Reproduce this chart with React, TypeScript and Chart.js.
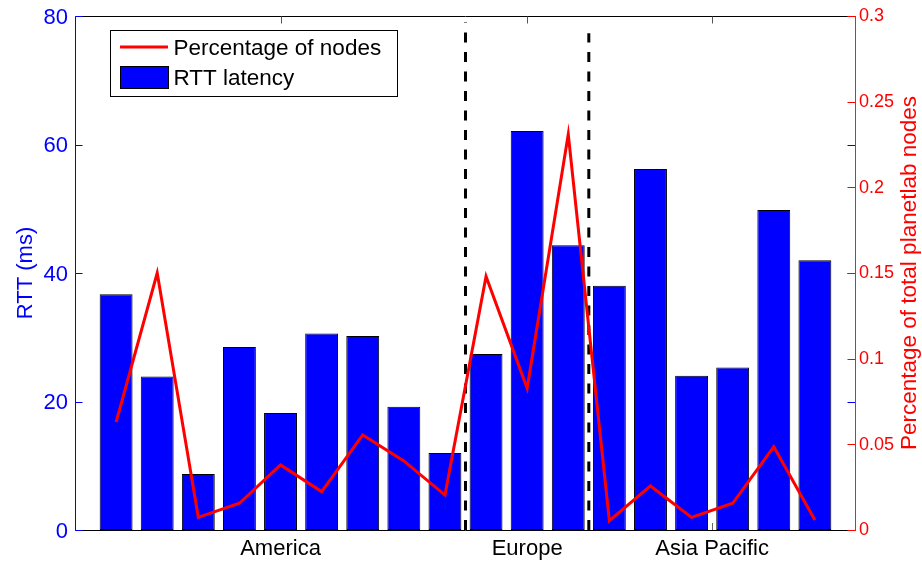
import React, { useEffect, useRef } from 'react';
import { Chart, registerables } from 'chart.js';

Chart.register(...registerables);

// ---- data ----
const regions = ['America', 'Europe', 'Asia Pacific'];
const regionTickPositions = [5, 11, 15.5];
const rttLatency = [36.7, 23.9, 8.7, 28.5, 18.2, 30.6, 30.2, 19.2, 12.0, 27.4, 62.1, 44.3, 38.0, 56.2, 24.0, 25.3, 49.8, 42.0];
const nodePercentage = [0.063, 0.150, 0.0074, 0.0156, 0.038, 0.0224, 0.0555, 0.0403, 0.0204, 0.148, 0.0827, 0.231, 0.0054, 0.0257, 0.0074, 0.0156, 0.0486, 0.0058];
const leftTickValues = [0, 20, 40, 60, 80];
const rightTickValues = [0, 0.05, 0.1, 0.15, 0.2, 0.25, 0.3];
const dividerPositions = [9.5, 12.5];
const dividerTopValues = [79, 77.3];
const legendLabels = ['Percentage of nodes', 'RTT latency'];
const leftTitle = 'RTT (ms)';
const rightTitle = 'Percentage of total planetlab nodes';

const FONT = '"Liberation Sans", Arial, Helvetica, sans-serif';
const BLUE = '#0000ff';
const RED = '#ff0000';

const decorPlugin = {
  id: 'decor',
  beforeDatasetsDraw(chart: any) {
    const { ctx, chartArea: a, scales } = chart;
    ctx.save();
    ctx.strokeStyle = '#666';
    ctx.lineWidth = 1;
    regionTickPositions.forEach((v) => {
      const x = Math.round(scales.x.getPixelForValue(v)) + 0.5;
      ctx.beginPath();
      ctx.moveTo(x, a.bottom);
      ctx.lineTo(x, a.bottom - 7);
      ctx.stroke();
    });
    ctx.restore();
  },
  afterDatasetDraw(chart: any, args: any) {
    if (args.meta.type !== 'bar') return;
    const { ctx, scales } = chart;
    ctx.save();
    ctx.strokeStyle = '#000';
    ctx.lineWidth = 3;
    ctx.setLineDash([10, 9.5]);
    dividerPositions.forEach((v, i) => {
      const x = scales.x.getPixelForValue(v);
      ctx.beginPath();
      ctx.moveTo(x, scales.y.getPixelForValue(0));
      ctx.lineTo(x, scales.y.getPixelForValue(dividerTopValues[i]));
      ctx.stroke();
    });
    ctx.restore();
  },
  afterDraw(chart: any) {
    const { ctx, chartArea: a, scales } = chart;
    const L = Math.round(a.left) + 0.5;
    const R = Math.round(a.right) - 0.5;
    const T = Math.round(a.top) + 0.5;
    const B = Math.round(a.bottom) + 0.5;
    ctx.save();
    ctx.lineWidth = 1;
    // top border
    ctx.strokeStyle = '#000';
    ctx.beginPath();
    ctx.moveTo(L, T);
    ctx.lineTo(R, T);
    ctx.stroke();
    // bottom axis
    ctx.beginPath();
    ctx.moveTo(L, B);
    ctx.lineTo(R, B);
    ctx.stroke();
    // top ticks
    ctx.strokeStyle = '#555';
    regionTickPositions.forEach((v) => {
      const x = Math.round(scales.x.getPixelForValue(v)) + 0.5;
      ctx.beginPath();
      ctx.moveTo(x, T);
      ctx.lineTo(x, T + 7);
      ctx.stroke();
    });
    // left axis
    ctx.strokeStyle = BLUE;
    ctx.beginPath();
    ctx.moveTo(L, T);
    ctx.lineTo(L, B);
    ctx.stroke();
    leftTickValues.forEach((v) => {
      const y = Math.round(scales.y.getPixelForValue(v)) + 0.5;
      ctx.beginPath();
      ctx.moveTo(L, y);
      ctx.lineTo(L + 7, y);
      ctx.stroke();
      ctx.beginPath();
      ctx.moveTo(R, y);
      ctx.lineTo(R - 8, y);
      ctx.stroke();
    });
    // right axis ticks
    ctx.strokeStyle = RED;
    rightTickValues.forEach((v) => {
      const y = Math.round(scales.y1.getPixelForValue(v)) + 0.5;
      ctx.beginPath();
      ctx.moveTo(R, y);
      ctx.lineTo(R - 8, y);
      ctx.stroke();
    });
    // right axis line
    ctx.strokeStyle = '#a02fa0';
    ctx.beginPath();
    ctx.moveTo(R, T);
    ctx.lineTo(R, B);
    ctx.stroke();

    // axis titles
    ctx.textAlign = 'center';
    ctx.textBaseline = 'alphabetic';
    const midY = (a.top + a.bottom) / 2;
    ctx.save();
    ctx.font = `22px ${FONT}`;
    ctx.translate(a.left - 43, midY);
    ctx.rotate(-Math.PI / 2);
    ctx.fillStyle = BLUE;
    ctx.fillText(leftTitle, 0, 0);
    ctx.restore();
    ctx.save();
    ctx.font = `22.5px ${FONT}`;
    ctx.translate(a.right + 60, midY);
    ctx.rotate(-Math.PI / 2);
    ctx.fillStyle = RED;
    ctx.fillText(rightTitle, 0, 0);
    ctx.restore();

    // legend
    const lx = Math.round(a.left) + 35.5;
    const ly = Math.round(a.top) + 14.5;
    ctx.fillStyle = '#fff';
    ctx.fillRect(lx, ly, 287, 66);
    ctx.strokeStyle = '#000';
    ctx.lineWidth = 1;
    ctx.strokeRect(lx, ly, 287, 66);
    ctx.strokeStyle = RED;
    ctx.lineWidth = 3;
    ctx.beginPath();
    ctx.moveTo(lx + 9.5, ly + 16.5);
    ctx.lineTo(lx + 57.5, ly + 16.5);
    ctx.stroke();
    ctx.fillStyle = BLUE;
    ctx.fillRect(lx + 10, ly + 36, 48, 22);
    ctx.strokeStyle = '#000';
    ctx.lineWidth = 1;
    ctx.strokeRect(lx + 10, ly + 36, 48, 22);
    ctx.fillStyle = '#000';
    ctx.textAlign = 'left';
    ctx.textBaseline = 'middle';
    ctx.font = `22.5px ${FONT}`;
    ctx.fillText(legendLabels[0], lx + 63, ly + 18.5);
    ctx.fillText(legendLabels[1], lx + 63, ly + 48.5);
    ctx.restore();
  },
};

export default function App() {
  const canvasRef = useRef<HTMLCanvasElement | null>(null);

  useEffect(() => {
    const canvas = canvasRef.current;
    if (!canvas) return;
    const positions = rttLatency.map((_, i) => i + 1);
    const chart = new Chart(canvas, {
      type: 'bar',
      data: {
        datasets: [
          {
            type: 'line',
            label: legendLabels[0],
            data: nodePercentage.map((v, i) => ({ x: positions[i], y: v })),
            yAxisID: 'y1',
            xAxisID: 'x',
            borderColor: RED,
            borderWidth: 3,
            pointRadius: 0,
            tension: 0,
            fill: false,
            order: 0,
          } as any,
          {
            type: 'bar',
            label: legendLabels[1],
            data: rttLatency.map((v, i) => ({ x: positions[i], y: v })),
            yAxisID: 'y',
            xAxisID: 'x',
            backgroundColor: BLUE,
            borderColor: '#000',
            borderWidth: 1,
            borderSkipped: false,
            barPercentage: 0.8,
            categoryPercentage: 1,
            order: 1,
          } as any,
        ],
      },
      options: {
        animation: false,
        responsive: false,
        devicePixelRatio: 1,
        layout: { padding: { top: 16, left: 0, right: 0, bottom: 0 } },
        plugins: { legend: { display: false }, tooltip: { enabled: false }, title: { display: false } },
        scales: {
          x: {
            type: 'linear',
            min: 0,
            max: 19,
            offset: false,
            grid: { display: false, drawTicks: false },
            border: { display: false },
            afterBuildTicks: (s: any) => {
              s.ticks = regionTickPositions.map((v) => ({ value: v }));
            },
            afterFit: (s: any) => {
              s.height = 33;
            },
            ticks: {
              autoSkip: false,
              maxRotation: 0,
              padding: 6,
              color: '#000',
              font: { family: FONT, size: 22 },
              callback: (_v: any, i: number) => regions[i],
            },
          },
          y: {
            type: 'linear',
            position: 'left',
            min: 0,
            max: 80,
            grid: { display: false, drawTicks: false },
            border: { display: false },
            afterBuildTicks: (s: any) => {
              s.ticks = leftTickValues.map((v) => ({ value: v }));
            },
            afterFit: (s: any) => {
              s.width = 75;
            },
            ticks: {
              padding: 7,
              labelOffset: 1.5,
              color: BLUE,
              font: { family: FONT, size: 22, lineHeight: 0.8 },
              callback: (v: any) => String(v),
            },
          },
          y1: {
            type: 'linear',
            position: 'right',
            min: 0,
            max: 0.3,
            grid: { display: false, drawTicks: false },
            border: { display: false },
            afterBuildTicks: (s: any) => {
              s.ticks = rightTickValues.map((v) => ({ value: v }));
            },
            afterFit: (s: any) => {
              s.width = 66;
            },
            ticks: {
              padding: 3,
              labelOffset: 0.5,
              color: RED,
              font: { family: FONT, size: 18, lineHeight: 0.8 },
              callback: (v: any) => String(parseFloat(Number(v).toFixed(2))),
            },
          },
        },
      },
      plugins: [decorPlugin],
    });
    return () => chart.destroy();
  }, []);

  return (
    <div style={{ position: 'absolute', left: 0, top: 0, width: 922, height: 563, background: '#fff' }}>
      <canvas ref={canvasRef} width={922} height={563} style={{ display: 'block' }} />
    </div>
  );
}
